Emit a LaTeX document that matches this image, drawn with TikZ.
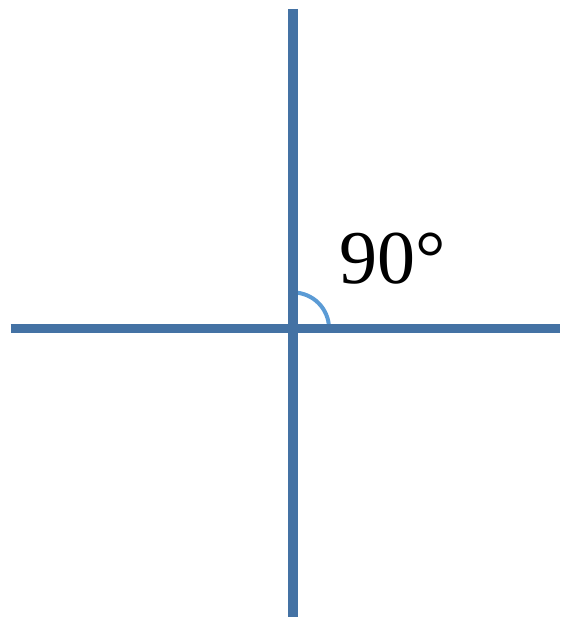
\documentclass[tikz,border=0pt]{standalone}
\usepackage{fontspec}
\setmainfont{Liberation Serif}
\definecolor{axisblue}{RGB}{68,114,164}
\definecolor{arcblue}{RGB}{91,155,213}
\begin{document}
\begin{tikzpicture}[x=1pt,y=-1pt,
  axisline/.style={draw=axisblue,line width=9.5pt},
  anglearc/.style={draw=arcblue,line width=4pt}]
\useasboundingbox (0,0) rectangle (560,617);
\coordinate (O) at (293,328.5);
\coordinate (top) at (293,9);
\coordinate (bot) at (293,617);
\coordinate (left) at (10.5,328.5);
\coordinate (right) at (560,328.5);
\draw[anglearc] ([yshift=36pt]O) arc[start angle=90,end angle=0,radius=36pt];
\draw[axisline] (top) -- (bot);
\draw[axisline] (left) -- (right);
\node[anchor=base west,inner sep=0pt,font=\fontsize{76}{80}\selectfont] (lbl) at (339,283) {90°};
\end{tikzpicture}
\end{document}
